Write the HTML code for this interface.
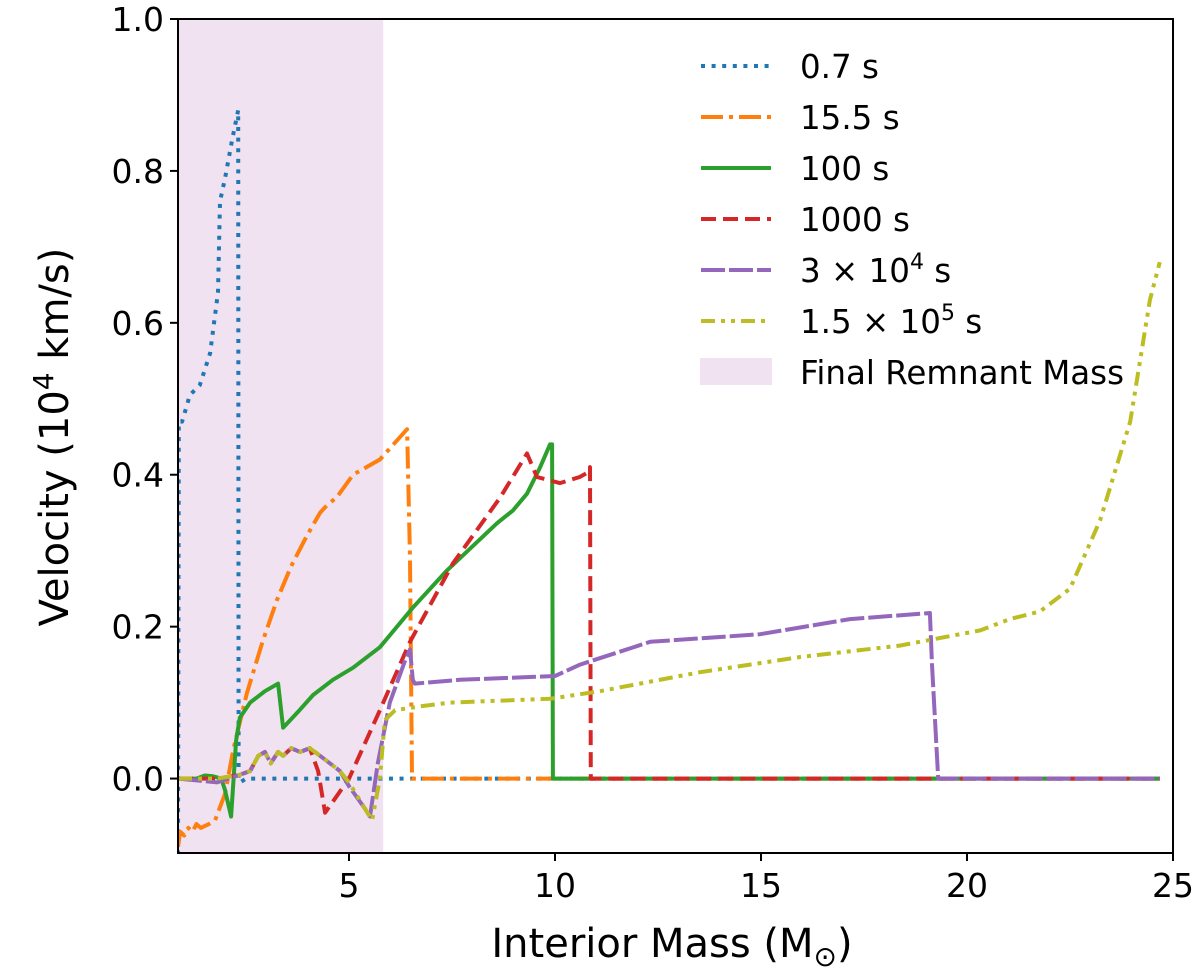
<!DOCTYPE html>
<html><head><meta charset="utf-8"><style>
body{margin:0;background:#fff;}
svg text{font-family:"DejaVu Sans","Liberation Sans",sans-serif;fill:#000;}
</style></head><body>
<svg id="chart" width="1200" height="972" viewBox="0 0 1200 972" xmlns="http://www.w3.org/2000/svg">
<g id="plot"></g>
<g id="axes"></g>
<g id="legend"></g>
</svg>
<script>
const xTicks=[5,10,15,20,25];
const yTicks=[0.0,0.2,0.4,0.6,0.8,1.0];
const yTickLabels=["0.0","0.2","0.4","0.6","0.8","1.0"];
const remnantMass=[0.85,5.83];
const s07x=[0.85,0.87,0.95,1.14,1.38,1.63,1.82,1.87,1.99,2.16,2.31,2.32,2.36,2.5,24.68];
const s07y=[-0.1,0.47,0.47,0.505,0.518,0.56,0.64,0.76,0.79,0.84,0.88,0.0,-0.005,0,0];
const s155x=[0.85,0.9,1.0,1.1,1.2,1.3,1.4,1.6,1.75,1.99,2.2,2.52,2.9,3.25,3.6,3.98,4.3,4.47,4.7,5.1,5.75,6.41,6.48,6.53,6.7,24.68];
const s155y=[-0.09,-0.07,-0.075,-0.065,-0.07,-0.06,-0.065,-0.06,-0.055,-0.02,0.04,0.112,0.18,0.235,0.28,0.32,0.35,0.36,0.37,0.40,0.42,0.46,0.29,0.0,0,0];
const s100x=[0.85,1.3,1.5,1.7,1.9,1.99,2.14,2.26,2.35,2.6,2.96,3.28,3.40,3.8,4.13,4.61,5.1,5.75,6.55,7.38,8.59,8.98,9.32,9.64,9.88,9.93,9.95,24.68];
const s100y=[0,0,0.004,0.003,0,-0.015,-0.05,0.05,0.08,0.10,0.115,0.125,0.067,0.09,0.11,0.13,0.146,0.173,0.225,0.274,0.336,0.353,0.375,0.41,0.44,0.44,0,0];
const s1000x=[0.85,1.8,2.35,2.6,2.8,2.96,3.1,3.28,3.4,3.6,3.81,4.05,4.25,4.42,5.0,5.75,6.48,7.52,8.67,9.32,9.56,10.12,10.6,10.8,10.85,10.87,24.68];
const s1000y=[0,0,0.005,0.01,0.03,0.035,0.02,0.035,0.03,0.04,0.035,0.04,0.01,-0.045,0,0.09,0.18,0.283,0.37,0.428,0.397,0.389,0.397,0.403,0.41,0,0];
const s3e4x=[0.85,1.8,2.35,2.6,2.8,2.96,3.1,3.28,3.4,3.6,3.81,4.05,4.3,4.78,5.0,5.39,5.51,5.7,5.99,6.36,6.48,6.55,6.6,7.69,10.0,10.61,12.31,14.98,17.16,19.10,19.15,19.30,24.68];
const s3e4y=[0,-0.005,0.005,0.01,0.03,0.035,0.02,0.035,0.03,0.04,0.035,0.04,0.03,0.01,-0.01,-0.04,-0.05,0.02,0.10,0.155,0.17,0.13,0.125,0.13,0.135,0.15,0.18,0.19,0.21,0.218,0.15,0,0];
const s15e5x=[0.85,1.8,2.35,2.6,2.8,2.96,3.1,3.28,3.4,3.6,3.81,4.05,4.3,4.78,5.0,5.39,5.56,5.75,5.87,6.12,6.72,7.45,9.88,11.09,13.52,15.95,18.37,20.32,21.04,21.77,22.5,23.23,23.96,24.44,24.68];
const s15e5y=[0,0,0.005,0.01,0.03,0.035,0.02,0.035,0.03,0.04,0.035,0.04,0.03,0.01,-0.005,-0.04,-0.055,0.0,0.077,0.09,0.095,0.10,0.105,0.115,0.14,0.16,0.175,0.195,0.21,0.22,0.25,0.34,0.47,0.63,0.68];

const L=178,R=1173,T=19,B=853,XMIN=0.85,XMAX=25,YMIN=-0.098,YMAX=1.0;
const sx=v=>L+(v-XMIN)/(XMAX-XMIN)*(R-L);
const sy=v=>B-(v-YMIN)/(YMAX-YMIN)*(B-T);
const NS="http://www.w3.org/2000/svg";
function mk(tag,parent,attrs){const e=document.createElementNS(NS,tag);for(const k in attrs)e.setAttribute(k,attrs[k]);parent.appendChild(e);return e;}
const plot=document.getElementById('plot'),axes=document.getElementById('axes'),leg=document.getElementById('legend');
const defs=mk('defs',plot,{});const cp=mk('clipPath',defs,{id:'clip'});mk('rect',cp,{x:L,y:T,width:R-L,height:B-T});
const band=mk('rect',plot,{x:sx(remnantMass[0]),y:T,width:sx(remnantMass[1])-sx(remnantMass[0]),height:B-T,fill:'#f0e2f0'});


const styles=[
 {c:'#1f77b4',d:'4,6.6',n:'series-0p7s'},
 {c:'#ff7f0e',d:'22,6,4,6',n:'series-15p5s'},
 {c:'#2ca02c',d:'',n:'series-100s'},
 {c:'#d62728',d:'15,7',n:'series-1000s'},
 {c:'#9467bd',d:'24,4',n:'series-3e4s'},
 {c:'#bcbd22',d:'14,6,4,6,4,6',n:'series-1p5e5s'}];
const allX=[s07x,s155x,s100x,s1000x,s3e4x,s15e5x],allY=[s07y,s155y,s100y,s1000y,s3e4y,s15e5y];
const lg=mk('g',plot,{'clip-path':'url(#clip)'});
[0,1,2,3,4,5].forEach(i=>{
 const d=allX[i].map((x,j)=>(j?'L':'M')+sx(x).toFixed(1)+','+sy(allY[i][j]).toFixed(1)).join('');
 const p=mk('path',lg,{d:d,fill:'none',stroke:styles[i].c,'stroke-width':4,'stroke-dasharray':styles[i].d,'stroke-linejoin':'round'});
 
 
});
mk('rect',axes,{x:L,y:T,width:R-L,height:B-T,fill:'none',stroke:'#000','stroke-width':2});
xTicks.forEach(v=>{const x=sx(v);mk('line',axes,{x1:x,x2:x,y1:B,y2:B+8,stroke:'#000','stroke-width':2});
 const t=mk('text',axes,{x:x,y:B+44,'font-size':33,'text-anchor':'middle'});t.textContent=v;
 
 });
yTicks.forEach((v,i)=>{const y=sy(v);mk('line',axes,{x1:L-8,x2:L,y1:y,y2:y,stroke:'#000','stroke-width':2});
 const t=mk('text',axes,{x:L-14,y:y+12,'font-size':33,'text-anchor':'end'});t.textContent=yTickLabels[i];
 
 });
const xt=mk('text',axes,{x:672,y:957,'font-size':40,'text-anchor':'middle'});
xt.innerHTML='Interior Mass (M<tspan font-size="28" dy="9">⊙</tspan><tspan dy="-9">)</tspan>';


const yt=mk('text',axes,{x:0,y:0,'font-size':40,'text-anchor':'middle',transform:'translate(68,437) rotate(-90)'});
yt.innerHTML='Velocity (10<tspan font-size="28" dy="-15">4</tspan><tspan dy="15"> km/s)</tspan>';


const rows=[66,117,168,219,270,321,372];
const labHtml=['0.7 s','15.5 s','100 s','1000 s','3 × 10<tspan font-size="22" dy="-13">4</tspan><tspan dy="13"> s</tspan>','1.5 × 10<tspan font-size="22" dy="-13">5</tspan><tspan dy="13"> s</tspan>','Final Remnant Mass'];
rows.forEach((y,i)=>{
 if(i<6){mk('line',leg,{x1:701,x2:771,y1:y,y2:y,stroke:styles[i].c,'stroke-width':4,'stroke-dasharray':styles[i].d});}
 else{mk('rect',leg,{x:700,y:y-14,width:72,height:27,fill:'#f0e2f0'});}
 const t=mk('text',leg,{x:800,y:y+12,'font-size':32.5});t.innerHTML=labHtml[i];
 
 
});
</script>
</body></html>
